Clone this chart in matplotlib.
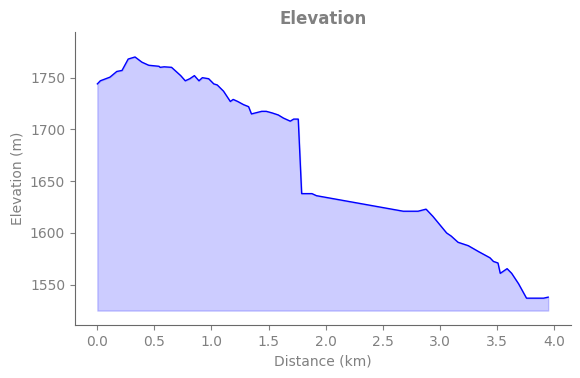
import matplotlib
matplotlib.use("Agg")
import matplotlib.pyplot as plt

# ================= DATA =================

distance_km = [
    0.0, 0.026, 0.11, 0.17, 0.216, 0.27, 0.33, 0.39, 0.45, 0.54, 0.55, 0.585,
    0.65, 0.68, 0.73, 0.77, 0.81, 0.85, 0.89, 0.92, 0.975, 1.02, 1.05, 1.105,
    1.165, 1.19, 1.23, 1.28, 1.325, 1.35, 1.44, 1.48, 1.53, 1.585, 1.63, 1.69,
    1.72, 1.76, 1.79, 1.88, 1.92, 2.68, 2.81, 2.88, 2.94, 3.06, 3.10, 3.16,
    3.25, 3.34, 3.44, 3.47, 3.51, 3.53, 3.59, 3.63, 3.69, 3.76, 3.91, 3.95,
]

elevation_m = [
    1744, 1747, 1750.5, 1756, 1757, 1768, 1770, 1765, 1762, 1761, 1760, 1760.5,
    1760, 1757, 1752, 1747, 1749, 1752, 1747, 1750, 1749, 1744, 1743, 1737,
    1727, 1729, 1727, 1724, 1722, 1715, 1717.5, 1717.5, 1716, 1714, 1711, 1708,
    1710, 1710, 1638, 1638, 1636, 1621, 1621, 1623, 1616, 1600, 1597, 1591,
    1587.7, 1582, 1576, 1572.5, 1571, 1561, 1565.5, 1561, 1551, 1537, 1537, 1538,
]

fill_base = 1525

# ================= PLOT =================

fig, ax = plt.subplots(figsize=(5.8, 3.78), dpi=100)

ax.plot(distance_km, elevation_m, color="blue", linewidth=1)
ax.fill_between(distance_km, elevation_m, fill_base, color="blue", alpha=0.2)

ax.set_ylim(1511, 1794)

ax.set_title("Elevation", color="gray", fontweight="bold", fontsize=12)
ax.set_xlabel("Distance (km)", color="gray")
ax.set_ylabel("Elevation (m)", color="gray")

ax.spines["top"].set_visible(False)
ax.spines["right"].set_visible(False)
ax.spines["left"].set_color("dimgray")
ax.spines["bottom"].set_color("dimgray")
ax.tick_params(colors="gray", labelcolor="gray")

fig.subplots_adjust(left=0.129, right=0.984, top=0.915, bottom=0.14)
fig.savefig("out.png")
